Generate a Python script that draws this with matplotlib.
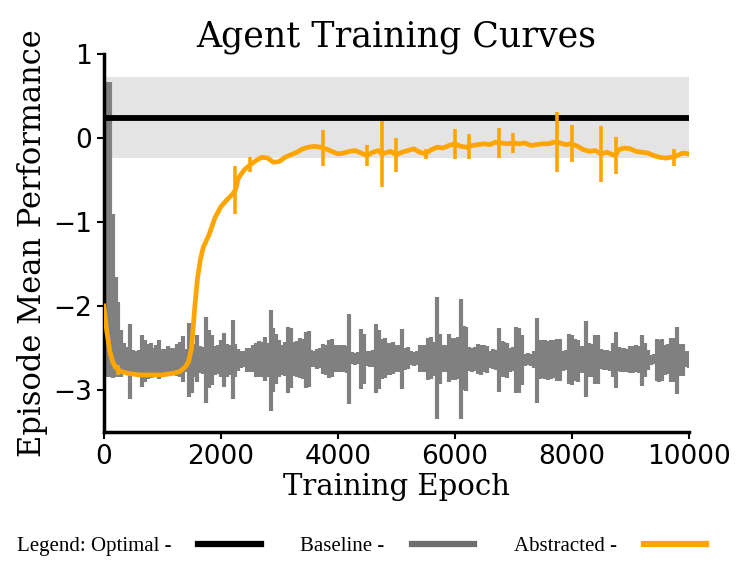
import numpy as np
import matplotlib
matplotlib.use('Agg')
import matplotlib.pyplot as plt
from matplotlib.lines import Line2D

# optimal reference level and its spread
optimal = 0.24
optimal_spread = 0.48

# baseline: one point every 50 epochs
baseline_x = np.arange(0, 10001, 50)
baseline_mean = [
    -1.09, -1.09, -1.09, -1.88, -2.25, -2.40, -2.57, -2.62, -2.65, -2.66,
    -2.66, -2.67, -2.66, -2.65, -2.66, -2.66, -2.65, -2.66, -2.65, -2.64,
    -2.66, -2.65, -2.64, -2.66, -2.65, -2.64, -2.64, -2.63, -2.65, -2.64,
    -2.64, -2.65, -2.63, -2.64, -2.65, -2.64, -2.63, -2.64, -2.65, -2.64,
    -2.63, -2.64, -2.65, -2.64, -2.64, -2.65, -2.64, -2.64, -2.63, -2.64,
    -2.64, -2.63, -2.64, -2.63, -2.64, -2.63, -2.64, -2.65, -2.64, -2.63,
    -2.63, -2.64, -2.63, -2.64, -2.62, -2.63, -2.63, -2.62, -2.63, -2.64,
    -2.63, -2.62, -2.63, -2.63, -2.62, -2.63, -2.64, -2.63, -2.62, -2.63,
    -2.63, -2.62, -2.63, -2.64, -2.63, -2.62, -2.63, -2.62, -2.63, -2.63,
    -2.62, -2.63, -2.62, -2.63, -2.64, -2.63, -2.62, -2.63, -2.63, -2.62,
    -2.63, -2.62, -2.63, -2.63, -2.62, -2.62, -2.63, -2.62, -2.63, -2.63,
    -2.62, -2.63, -2.62, -2.63, -2.62, -2.63, -2.62, -2.63, -2.62, -2.63,
    -2.63, -2.62, -2.63, -2.62, -2.63, -2.63, -2.64, -2.63, -2.63, -2.64,
    -2.63, -2.64, -2.64, -2.63, -2.64, -2.64, -2.63, -2.64, -2.65, -2.64,
    -2.63, -2.64, -2.65, -2.64, -2.64, -2.63, -2.64, -2.64, -2.65, -2.64,
    -2.63, -2.64, -2.65, -2.64, -2.63, -2.64, -2.64, -2.65, -2.64, -2.63,
    -2.64, -2.64, -2.65, -2.64, -2.64, -2.63, -2.64, -2.65, -2.64, -2.64,
    -2.63, -2.64, -2.64, -2.65, -2.64, -2.64, -2.63, -2.64, -2.64, -2.65,
    -2.64, -2.64, -2.63, -2.64, -2.65, -2.64, -2.64, -2.64, -2.63, -2.64,
    -2.65, -2.64, -2.64, -2.63, -2.64, -2.64, -2.65, -2.64, -2.64, -2.63,
    -2.64,
]
baseline_err = [
    1.76, 1.76, 1.76, 0.98, 0.60, 0.45, 0.28, 0.18, 0.16, 0.45,
    0.14, 0.14, 0.14, 0.31, 0.25, 0.21, 0.21, 0.16, 0.18, 0.23,
    0.15, 0.14, 0.16, 0.16, 0.15, 0.19, 0.21, 0.27, 0.14, 0.44,
    0.40, 0.20, 0.28, 0.16, 0.16, 0.51, 0.35, 0.30, 0.17, 0.17,
    0.22, 0.32, 0.20, 0.18, 0.47, 0.20, 0.13, 0.10, 0.10, 0.14,
    0.14, 0.16, 0.20, 0.21, 0.21, 0.26, 0.20, 0.60, 0.38, 0.30,
    0.22, 0.18, 0.20, 0.39, 0.36, 0.20, 0.21, 0.24, 0.24, 0.33,
    0.33, 0.10, 0.10, 0.12, 0.12, 0.18, 0.18, 0.23, 0.23, 0.16,
    0.16, 0.16, 0.16, 0.16, 0.54, 0.07, 0.07, 0.07, 0.36, 0.30,
    0.09, 0.09, 0.10, 0.41, 0.35, 0.24, 0.24, 0.19, 0.19, 0.19,
    0.16, 0.16, 0.36, 0.13, 0.13, 0.08, 0.08, 0.08, 0.16, 0.16,
    0.16, 0.25, 0.25, 0.20, 0.73, 0.30, 0.16, 0.16, 0.29, 0.25,
    0.25, 0.25, 0.71, 0.38, 0.38, 0.14, 0.14, 0.14, 0.18, 0.18,
    0.16, 0.16, 0.10, 0.12, 0.12, 0.38, 0.21, 0.21, 0.21, 0.14,
    0.14, 0.39, 0.39, 0.30, 0.07, 0.07, 0.07, 0.10, 0.51, 0.23,
    0.23, 0.23, 0.23, 0.23, 0.23, 0.25, 0.25, 0.12, 0.12, 0.30,
    0.30, 0.25, 0.25, 0.16, 0.16, 0.45, 0.20, 0.20, 0.29, 0.29,
    0.12, 0.12, 0.12, 0.12, 0.20, 0.33, 0.14, 0.14, 0.14, 0.14,
    0.16, 0.16, 0.16, 0.16, 0.30, 0.20, 0.12, 0.06, 0.06, 0.25,
    0.25, 0.25, 0.18, 0.18, 0.26, 0.26, 0.40, 0.19, 0.19, 0.09,
    0.10,
]

# abstracted agent
abstracted_x = [
    0, 50, 100, 150, 200, 250, 300, 400, 500, 600,
    700, 800, 900, 1000, 1100, 1200, 1300, 1400, 1450, 1500,
    1550, 1600, 1650, 1700, 1800, 1900, 2000, 2100, 2200, 2250,
    2300, 2400, 2500, 2600, 2700, 2800, 2900, 3000, 3100, 3200,
    3300, 3400, 3500, 3600, 3700, 3750, 3800, 3900, 4000, 4100,
    4200, 4300, 4400, 4500, 4600, 4700, 4750, 4800, 4900, 5000,
    5100, 5200, 5300, 5400, 5500, 5600, 5700, 5800, 5900, 6000,
    6100, 6200, 6250, 6300, 6400, 6500, 6600, 6700, 6750, 6800,
    6900, 7000, 7100, 7200, 7300, 7400, 7500, 7600, 7700, 7750,
    7800, 7900, 8000, 8100, 8200, 8300, 8400, 8500, 8600, 8700,
    8750, 8800, 8900, 9000, 9100, 9200, 9300, 9400, 9500, 9600,
    9700, 9750, 9800, 9900, 10000,
]
abstracted_mean = [
    -2.00, -2.30, -2.53, -2.66, -2.73, -2.76, -2.78, -2.80, -2.81, -2.82,
    -2.82, -2.82, -2.82, -2.82, -2.81, -2.80, -2.78, -2.72, -2.66, -2.50,
    -2.05, -1.68, -1.45, -1.30, -1.15, -0.95, -0.82, -0.74, -0.67, -0.62,
    -0.48, -0.38, -0.32, -0.27, -0.23, -0.24, -0.29, -0.28, -0.23, -0.20,
    -0.17, -0.13, -0.11, -0.10, -0.11, -0.12, -0.13, -0.16, -0.19, -0.18,
    -0.16, -0.15, -0.18, -0.21, -0.17, -0.15, -0.19, -0.18, -0.16, -0.20,
    -0.17, -0.15, -0.13, -0.17, -0.19, -0.14, -0.11, -0.12, -0.09, -0.07,
    -0.10, -0.11, -0.10, -0.09, -0.08, -0.07, -0.08, -0.05, -0.06, -0.06,
    -0.07, -0.06, -0.07, -0.06, -0.09, -0.08, -0.07, -0.07, -0.05, -0.05,
    -0.06, -0.08, -0.07, -0.10, -0.14, -0.16, -0.15, -0.19, -0.17, -0.20,
    -0.21, -0.14, -0.12, -0.13, -0.16, -0.17, -0.18, -0.21, -0.23, -0.24,
    -0.23, -0.23, -0.21, -0.18, -0.19,
]
abstracted_err = [
    0, 0, 0, 0, 0, 0.06, 0, 0, 0, 0,
    0, 0, 0, 0, 0, 0, 0, 0, 0, 0,
    0, 0, 0, 0, 0, 0, 0, 0, 0, 0.29,
    0, 0, 0.09, 0, 0, 0, 0, 0, 0, 0,
    0, 0, 0, 0, 0, 0.21, 0, 0, 0, 0,
    0, 0, 0, 0.12, 0, 0, 0.39, 0, 0, 0.20,
    0, 0, 0, 0, 0.06, 0, 0, 0, 0, 0.18,
    0, 0, 0.15, 0, 0, 0, 0, 0, 0.18, 0,
    0, 0.12, 0, 0, 0, 0, 0, 0, 0, 0.36,
    0, 0, 0.22, 0, 0, 0, 0, 0.33, 0, 0,
    0.22, 0, 0, 0, 0, 0, 0, 0, 0, 0,
    0, 0.10, 0, 0, 0,
]

fig = plt.figure(figsize=(7.47, 5.67), dpi=100)
ax = fig.add_axes([0.139, 0.238, 0.783, 0.667])

ax.axhspan(optimal - optimal_spread, optimal + optimal_spread, color='#e4e4e4', lw=0, zorder=1)
ax.axhline(optimal, color='black', lw=4.2, zorder=3)

ax.errorbar(baseline_x, baseline_mean, yerr=baseline_err, color='#808080',
            lw=3, elinewidth=3.0, zorder=2)

ax_x = np.array(abstracted_x)
ax_y = np.array(abstracted_mean)
ax_e = np.array(abstracted_err)
has_err = ax_e > 0
ax.plot(ax_x, ax_y, color='orange', lw=3.4, zorder=4)
ax.errorbar(ax_x[has_err], ax_y[has_err], yerr=ax_e[has_err], fmt='none',
            ecolor='orange', elinewidth=2.6, zorder=4)

ax.set_xlim(0, 10000)
ax.set_ylim(-3.5, 1.0)
ax.set_xticks([0, 2000, 4000, 6000, 8000, 10000])
ax.set_yticks([-3, -2, -1, 0, 1])
ax.spines[['top', 'right']].set_visible(False)
for s in ['left', 'bottom']:
    ax.spines[s].set_linewidth(2.5)
ax.tick_params(labelsize=19, width=1.5, length=5)

ax.set_title('Agent Training Curves', fontsize=25, family='DejaVu Serif', pad=3)
ax.set_xlabel('Training Epoch', fontsize=21, family='DejaVu Serif', labelpad=2)
ax.set_ylabel('Episode Mean Performance', fontsize=22, family='DejaVu Serif', labelpad=4)

handles = [Line2D([], [], color='black', lw=4.5),
           Line2D([], [], color='#6e6e6e', lw=4.5),
           Line2D([], [], color='orange', lw=4.5)]
labels = ['Legend: Optimal -', 'Baseline -', 'Abstracted -']
fig.legend(handles, labels, loc='center', bbox_to_anchor=(0.484, 0.037), ncol=3,
           frameon=False, markerfirst=False, handlelength=3.0, handletextpad=1.3,
           columnspacing=1.9, borderpad=0,
           prop={'family': 'Liberation Serif', 'size': 15})

fig.savefig('out.png', dpi=100)
